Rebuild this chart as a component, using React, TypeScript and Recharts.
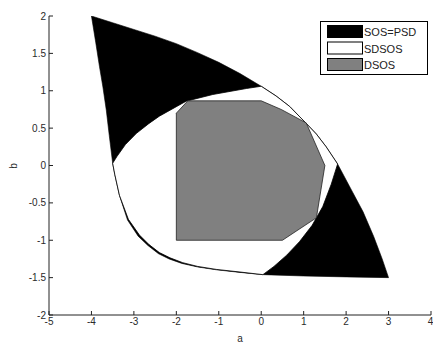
import React from 'react';
import { ScatterChart, Scatter, XAxis, YAxis, Legend, Polygon } from 'recharts';

// SOS=PSD region: outer boundary, clockwise from the top-left corner
const sosA = [-4, -3.5, -3, -2.5, -2, -1.5, -1, -0.5, 0, 0.35, 0.67, 1.04, 1.3, 1.53, 1.8, 2.1, 2.4, 2.65, 2.85, 3, 2, 1, 0.04, -0.5, -1.06, -1.5, -1.87, -2.17, -2.42, -2.67, -2.9, -3.15, -3.34, -3.45, -3.5, -3.58, -3.65, -3.73, -3.81, -3.9];
const sosB = [2, 1.91, 1.82, 1.73, 1.63, 1.51, 1.38, 1.23, 1.06, 0.93, 0.79, 0.575, 0.42, 0.25, 0.02, -0.3, -0.62, -0.95, -1.25, -1.5, -1.49, -1.478, -1.46, -1.43, -1.395, -1.357, -1.31, -1.25, -1.18, -1.07, -0.945, -0.73, -0.4, -0.12, 0.03, 0.4, 0.74, 1.05, 1.32, 1.65];

// SDSOS region
const sdsosA = [-3.5, -3.4, -3.2, -2.94, -2.65, -2.4, -1.77, -1.14, -0.35, 0, 0.35, 0.67, 1.04, 1.3, 1.53, 1.8, 1.65, 1.45, 1.2, 0.9, 0.6, 0.3, 0.04, -0.5, -1.06, -1.5, -1.85, -2.15, -2.4, -2.65, -2.87, -3.13, -3.34, -3.45];
const sdsosB = [0.03, 0.12, 0.28, 0.43, 0.56, 0.66, 0.86, 0.95, 1.03, 1.06, 0.93, 0.79, 0.575, 0.42, 0.25, 0.02, -0.25, -0.55, -0.8, -1.02, -1.2, -1.35, -1.46, -1.425, -1.39, -1.35, -1.3, -1.235, -1.165, -1.055, -0.93, -0.72, -0.4, -0.12];

// DSOS region
const dsosA = [-2, 0.5, 1.3, 1.5, 1.06, 0.47, 0, -1.73, -2];
const dsosB = [-1, -1, -0.7, 0, 0.57, 0.75, 0.865, 0.865, 0.7];

const xTicks = [-5, -4, -3, -2, -1, 0, 1, 2, 3, 4];
const yTicks = [-2, -1.5, -1, -0.5, 0, 0.5, 1, 1.5, 2];

const legendItems = [
  { name: 'SOS=PSD', fill: '#000000' },
  { name: 'SDSOS', fill: '#ffffff' },
  { name: 'DSOS', fill: '#808080' },
];

const zip = (a: number[], b: number[]) => a.map((v, i) => ({ a: v, b: b[i] }));

const font = '"Liberation Sans", Arial, sans-serif';
const tickStyle = { fontSize: 10, fill: '#2a2a2a', fontFamily: font };

const region = (fill: string, stroke: string, sw: number) => (p: any) => (
  <Polygon points={p.points} fill={fill} stroke={stroke} strokeWidth={sw} />
);

const LegendBox = () => (
  <svg width={108} height={54} style={{ display: 'block' }}>
    <rect x={0.5} y={0.5} width={107} height={53} fill="#fff" stroke="#000" />
    {legendItems.map((it, i) => (
      <g key={it.name}>
        <rect x={7.5} y={4.5 + i * 16.5} width={35} height={12} fill={it.fill} stroke="#000" />
        <text x={44} y={11 + i * 16.5} dominantBaseline="central" fontSize={11} fontFamily={font} fill="#222">
          {it.name}
        </text>
      </g>
    ))}
  </svg>
);

export default function App() {
  return (
    <div style={{ position: 'absolute', left: 0, top: 0, background: '#fff' }}>
      <ScatterChart width={433} height={344} margin={{ top: 16, right: 2, bottom: 0, left: 0 }}>
        <XAxis
          dataKey="a"
          type="number"
          domain={[-5, 4]}
          ticks={xTicks}
          allowDataOverflow
          height={29}
          stroke="#222"
          tickSize={-4}
          tickMargin={7}
          tick={tickStyle}
          label={{ value: 'a', position: 'insideBottom', offset: 2, style: tickStyle }}
        />
        <YAxis
          dataKey="b"
          type="number"
          domain={[-2, 2]}
          ticks={yTicks}
          allowDataOverflow
          width={49}
          stroke="#222"
          tickSize={-4}
          tickMargin={7}
          tick={tickStyle}
          label={() => (
            <text x={13} y={166} transform="rotate(-90 13 166)" textAnchor="middle" dominantBaseline="central" {...tickStyle}>
              b
            </text>
          )}
        />
        <Scatter data={zip(sosA, sosB)} line={region('#000', '#000', 0.6)} shape={() => <g />} isAnimationActive={false} />
        <Scatter data={zip(sdsosA, sdsosB)} line={region('#fff', '#000', 0.8)} shape={() => <g />} isAnimationActive={false} />
        <Scatter data={zip(dsosA, dsosB)} line={region('#808080', '#222', 0.8)} shape={() => <g />} isAnimationActive={false} />
        <Legend
          layout="vertical"
          align="center"
          verticalAlign="middle"
          wrapperStyle={{ left: 320, top: 21, width: 108, height: 54 }}
          content={() => <LegendBox />}
        />
      </ScatterChart>
    </div>
  );
}
